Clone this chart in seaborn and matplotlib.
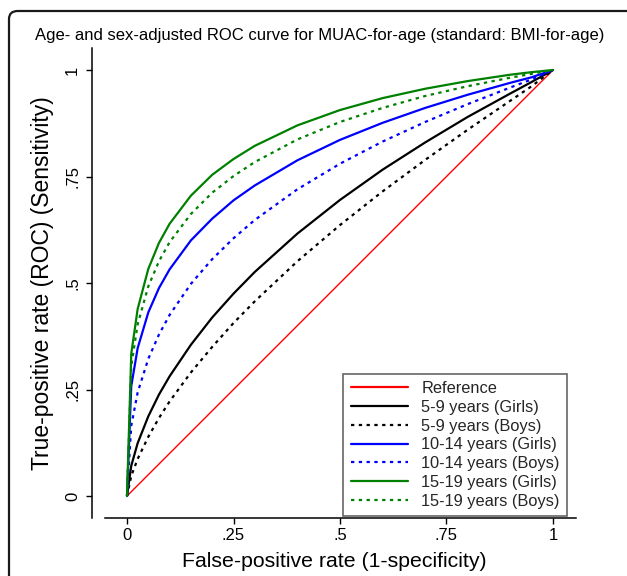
import numpy as np
import pandas as pd
import matplotlib
matplotlib.use("Agg")
import matplotlib.pyplot as plt
import seaborn as sns
from matplotlib.patches import FancyBboxPatch

# ---- data ----
fpr = [0, 0.01, 0.025, 0.05, 0.075, 0.1, 0.15, 0.2, 0.25, 0.3,
       0.4, 0.5, 0.6, 0.7, 0.8, 0.9, 0.95, 1]
tpr_5_9_girls = [0, 0.071, 0.124, 0.187, 0.238, 0.281, 0.355, 0.419, 0.475, 0.526,
                 0.616, 0.695, 0.766, 0.830, 0.890, 0.945, 0.972, 1]
tpr_5_9_boys = [0, 0.047, 0.087, 0.139, 0.183, 0.222, 0.290, 0.350, 0.406, 0.457,
                0.551, 0.636, 0.715, 0.789, 0.860, 0.928, 0.962, 1]
tpr_10_14_girls = [0, 0.258, 0.347, 0.431, 0.488, 0.532, 0.600, 0.651, 0.694, 0.729,
                   0.788, 0.836, 0.876, 0.911, 0.942, 0.970, 0.983, 1]
tpr_10_14_boys = [0, 0.165, 0.243, 0.322, 0.379, 0.425, 0.498, 0.556, 0.605, 0.648,
                  0.720, 0.780, 0.832, 0.878, 0.920, 0.959, 0.978, 1]
tpr_15_19_girls = [0, 0.334, 0.439, 0.533, 0.594, 0.639, 0.705, 0.754, 0.791, 0.822,
                   0.870, 0.906, 0.934, 0.956, 0.974, 0.989, 0.995, 1]
tpr_15_19_boys = [0, 0.305, 0.403, 0.492, 0.551, 0.596, 0.662, 0.712, 0.751, 0.784,
                  0.837, 0.878, 0.911, 0.939, 0.962, 0.982, 0.991, 1]
ref_x = [0, 1]
ref_y = [0, 1]

labels = ["Reference", "5-9 years (Girls)", "5-9 years (Boys)",
          "10-14 years (Girls)", "10-14 years (Boys)",
          "15-19 years (Girls)", "15-19 years (Boys)"]
tick_vals = [0, 0.25, 0.5, 0.75, 1]
tick_labels = ["0", ".25", ".5", ".75", "1"]
title = "Age- and sex-adjusted ROC curve for MUAC-for-age (standard: BMI-for-age)"
xlabel = "False-positive rate (1-specificity)"
ylabel = "True-positive rate (ROC) (Sensitivity)"

# ---- styling ----
sns.set_theme(style="ticks")
plt.rcParams["font.family"] = ["Liberation Sans", "DejaVu Sans"]

W, H = 627, 576
fig = plt.figure(figsize=(W / 100, H / 100), dpi=100)
fig.patch.set_facecolor("white")

# outer rounded frame (partly outside the image, as in the reference)
frame = FancyBboxPatch((9 / W, -0.2), (640 - 9) / W, (H - 11) / H + 0.2,
                       boxstyle="round,pad=0,rounding_size=0.014",
                       transform=fig.transFigure, fill=False,
                       edgecolor="#1a1a1a", linewidth=1.6, zorder=0)
fig.patches.append(frame)

ax_l, ax_r, ax_t, ax_b = 92, 576, 48, 518
ax = fig.add_axes([ax_l / W, 1 - ax_b / H, (ax_r - ax_l) / W, (ax_b - ax_t) / H])
ax.set_facecolor("white")

dot = (0, (1.5, 2.0))
series = [
    (ref_x, ref_y, "red", "-", 1.0),
    (fpr, tpr_5_9_girls, "black", "-", 1.6),
    (fpr, tpr_5_9_boys, "black", dot, 1.6),
    (fpr, tpr_10_14_girls, "blue", "-", 1.6),
    (fpr, tpr_10_14_boys, "blue", dot, 1.6),
    (fpr, tpr_15_19_girls, "green", "-", 1.6),
    (fpr, tpr_15_19_boys, "green", dot, 1.6),
]
for (xs, ys, col, ls, lw), lab in zip(series, labels):
    df = pd.DataFrame({"x": xs, "y": ys})
    sns.lineplot(data=df, x="x", y="y", ax=ax, color=col, linestyle=ls,
                 linewidth=lw, sort=False, estimator=None, label=lab)

# axes ranges: data 0..1 maps to px 127..553 (x) and 496..70 (y)
ax.set_xlim((ax_l - 127) / 426, (ax_r - 127) / 426)
ax.set_ylim((496 - ax_b) / 426, (496 - ax_t) / 426)

for s in ["top", "right"]:
    ax.spines[s].set_visible(False)
for s in ["left", "bottom"]:
    ax.spines[s].set_linewidth(1.1)
    ax.spines[s].set_color("black")
ax.spines["bottom"].set_bounds((105 - 127) / 426, (ax_r - 127) / 426)

ax.set_xticks(tick_vals)
ax.set_xticklabels(tick_labels)
ax.set_yticks(tick_vals)
ax.set_yticklabels(tick_labels, rotation=90, va="center")
ax.tick_params(axis="both", direction="out", length=4.5, width=1.0,
               color="black", labelsize=12, labelcolor="black")
ax.tick_params(axis="x", pad=3)
ax.tick_params(axis="y", pad=4)

ax.set_xlabel(xlabel, fontsize=15.3, labelpad=6, color="black")
ax.set_ylabel(ylabel, fontsize=16.5, labelpad=8, color="black")

fig.text(320 / W, 1 - 40 / H, title, ha="center", va="baseline",
         fontsize=12, color="black")

# legend
handles, labs = ax.get_legend_handles_labels()
leg = ax.legend(handles, labs, loc="lower right",
                bbox_to_anchor=((567 - ax_l) / (ax_r - ax_l), (ax_b - 516) / (ax_b - ax_t)),
                borderaxespad=0, fontsize=11.8, frameon=True, fancybox=False,
                edgecolor="#666666", framealpha=1, handlelength=3.5,
                handletextpad=0.8, labelspacing=0.23, borderpad=0.45)
leg.get_frame().set_linewidth(1.2)
for h in leg.get_lines():
    h.set_linewidth(1.6)

fig.savefig("out.png", dpi=100, facecolor="white")
